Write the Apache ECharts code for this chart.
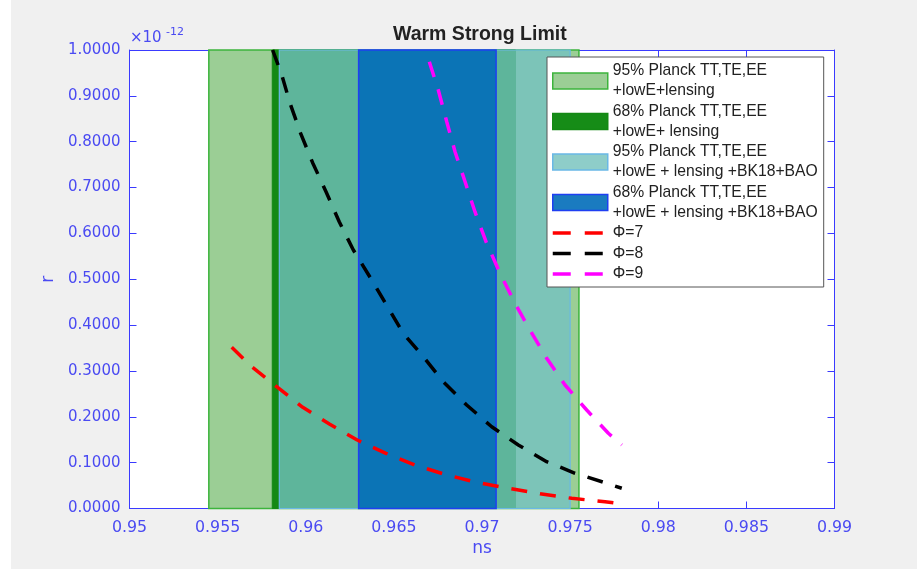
<!DOCTYPE html>
<html>
<head>
<meta charset="utf-8">
<script src="https://cdn.jsdelivr.net/npm/echarts@6/dist/echarts.min.js"></script>
<style>
  html, body { margin: 0; padding: 0; background: #ffffff; }
  #chart { width: 917px; height: 569px; }
</style>
</head>
<body>
<div id="chart"></div>
<script>
// Axis ranges (r is shown in units of 1e-12)
const nsMin = 0.95, nsMax = 0.99, nsStep = 0.005;
const rMin = 0, rMax = 1, rStep = 0.1;
const rScaleBase = '×10';
const rScaleExp = '-12';

// Confidence bands in ns: [low, high]
const bandNames = [
  '95% Planck TT,TE,EE\n+lowE+lensing',
  '68% Planck TT,TE,EE\n+lowE+ lensing',
  '95% Planck TT,TE,EE\n+lowE + lensing +BK18+BAO',
  '68% Planck TT,TE,EE\n+lowE + lensing +BK18+BAO'
];
const bandRanges = [
  [0.9545, 0.9755],
  [0.9581, 0.9719],
  [0.9585, 0.9750],
  [0.9630, 0.9708]
];

// Predicted (ns, r) curves
const curveNames = ['Φ=7', 'Φ=8', 'Φ=9'];
const phi7Ns = [0.95580, 0.95693, 0.95835, 0.95983, 0.96134, 0.96292, 0.96455, 0.96620, 0.96800, 0.96979, 0.97149, 0.97329, 0.97509, 0.97698, 0.97793];
const phi7R  = [0.3516, 0.3093, 0.2657, 0.2207, 0.1843, 0.1494, 0.1204, 0.0949, 0.0731, 0.0563, 0.0441, 0.0320, 0.0222, 0.0148, 0.0098];
const phi8Ns = [0.95812, 0.95864, 0.95911, 0.95971, 0.96039, 0.96115, 0.96190, 0.96270, 0.96365, 0.96553, 0.96667, 0.96780, 0.96913, 0.97055, 0.97206, 0.97367, 0.97528, 0.97708, 0.97793];
const phi8R  = [1.0000, 0.9455, 0.8837, 0.8183, 0.7542, 0.6910, 0.6255, 0.5638, 0.5043, 0.3821, 0.3311, 0.2766, 0.2257, 0.1784, 0.1385, 0.1021, 0.0768, 0.0550, 0.0441];
const phi9Ns = [0.96701, 0.96752, 0.96800, 0.96847, 0.96904, 0.96960, 0.97023, 0.97102, 0.97187, 0.97272, 0.97367, 0.97471, 0.97594, 0.97717, 0.97793];
const phi9R  = [0.9745, 0.9128, 0.8436, 0.7782, 0.7128, 0.6473, 0.5819, 0.5130, 0.4475, 0.3893, 0.3276, 0.2694, 0.2148, 0.1640, 0.1385];

// Styles
const axisBlue = '#3a3aff';
const labelBlue = '#4a4af2';
const bandStyles = [
  { fill: '#9bce95', stroke: '#3cb43c', lineWidth: 1.5 },
  { fill: '#148914', stroke: '#148914', lineWidth: 1 },
  { fill: 'rgba(115,194,194,0.78)', stroke: '#6ab8e6', lineWidth: 1.2 },
  { fill: '#0b74b6', stroke: '#1f3ff2', lineWidth: 1.5 }
];
const legendSwatch = ['#9bce95', '#168c17', '#8ecdc9', '#1a7bc0'];
const curveColors = ['#ff0000', '#000000', '#ff00ff'];
// Two dashes in a 55x16 legend box (corner specks pin the box size)
const dashIcon = 'path://M0,0h0.01v0.01h-0.01zM55,16h-0.01v-0.01h0.01zM0,6.3h18v3.4h-18zM32,6.3h18v3.4h-18z';

const chart = echarts.init(document.getElementById('chart'), null, { renderer: 'canvas' });

function pairs(xs, ys) { return xs.map((x, i) => [x, ys[i]]); }
const curves = [pairs(phi7Ns, phi7R), pairs(phi8Ns, phi8R), pairs(phi9Ns, phi9R)];

const bandSeries = bandNames.map((name, i) => ({
  name: name,
  type: 'custom',
  z: 2,
  silent: true,
  itemStyle: { color: legendSwatch[i] },
  encode: { x: [0, 1], y: [2, 3] },
  data: [[bandRanges[i][0], bandRanges[i][1], rMin, rMax]],
  renderItem: function (params, api) {
    const p0 = api.coord([api.value(0), api.value(3)]);
    const p1 = api.coord([api.value(1), api.value(2)]);
    return {
      type: 'rect',
      shape: { x: p0[0], y: p0[1], width: p1[0] - p0[0], height: p1[1] - p0[1] },
      style: bandStyles[i]
    };
  }
}));

const curveSeries = curveNames.map((name, i) => ({
  name: name,
  type: 'line',
  z: 4,
  symbol: 'none',
  smooth: false,
  clip: true,
  silent: true,
  itemStyle: { color: curveColors[i] },
  lineStyle: { color: curveColors[i], width: 3.5, type: [16, 13] },
  data: curves[i]
}));

const tickFont = 'DejaVu Sans';
const legendFont = 'Liberation Sans, Arial';

const option = {
  backgroundColor: '#f0f0f0',
  animation: false,
  title: {
    text: 'Warm Strong Limit',
    left: 393,
    top: 25,
    padding: 0,
    textStyle: { fontFamily: legendFont, fontWeight: 'bold', fontSize: 19.5, color: '#222222' }
  },
  grid: {
    left: 129.5, right: 82.5, top: 50, bottom: 60.5,
    show: true, backgroundColor: '#ffffff', borderWidth: 0
  },
  xAxis: [
    {
      type: 'value', min: nsMin, max: nsMax, interval: nsStep, position: 'bottom',
      axisLine: { onZero: false, lineStyle: { color: axisBlue, width: 1 } },
      axisTick: { inside: true, length: 7, lineStyle: { color: axisBlue } },
      splitLine: { show: false },
      axisLabel: {
        margin: 11, color: labelBlue, fontFamily: tickFont, fontSize: 15.8,
        formatter: v => String(parseFloat(v.toFixed(3)))
      },
      name: 'ns', nameLocation: 'middle', nameGap: 32,
      nameTextStyle: { color: labelBlue, fontFamily: tickFont, fontSize: 17 }
    },
    {
      type: 'value', min: nsMin, max: nsMax, interval: nsStep, position: 'top',
      axisLine: { onZero: false, lineStyle: { color: axisBlue, width: 1 } },
      axisTick: { inside: true, length: 7, lineStyle: { color: axisBlue } },
      splitLine: { show: false },
      axisLabel: { show: false }
    }
  ],
  yAxis: [
    {
      type: 'value', min: rMin, max: rMax, interval: rStep, position: 'left',
      axisLine: { show: true, onZero: false, lineStyle: { color: axisBlue, width: 1 } },
      axisTick: { show: true, inside: true, length: 7, lineStyle: { color: axisBlue } },
      splitLine: { show: false },
      axisLabel: {
        margin: 9, color: labelBlue, fontFamily: tickFont, fontSize: 15,
        formatter: v => v.toFixed(4)
      },
      name: 'r', nameLocation: 'middle', nameGap: 68,
      nameTextStyle: { color: labelBlue, fontFamily: tickFont, fontSize: 17 }
    },
    {
      type: 'value', min: rMin, max: rMax, interval: rStep, position: 'right',
      axisLine: { show: true, onZero: false, lineStyle: { color: axisBlue, width: 1 } },
      axisTick: { show: true, inside: true, length: 7, lineStyle: { color: axisBlue } },
      splitLine: { show: false },
      axisLabel: { show: false }
    }
  ],
  legend: {
    orient: 'vertical',
    left: 547,
    top: 57,
    padding: [4, 6, 3, 5],
    itemGap: 0.5,
    itemWidth: 55,
    itemHeight: 16,
    selectedMode: false,
    backgroundColor: '#ffffff',
    borderColor: '#555555',
    borderWidth: 1,
    textStyle: { fontFamily: legendFont, fontSize: 15.7, lineHeight: 20, color: '#222222' },
    data: [
      ...bandNames.map((name, i) => ({
        name: name,
        icon: 'rect',
        itemStyle: { color: legendSwatch[i], borderColor: bandStyles[i].stroke, borderWidth: 1.5 }
      })),
      ...curveNames.map((name, i) => ({
        name: name,
        icon: dashIcon,
        itemStyle: { color: curveColors[i], borderWidth: 0 }
      }))
    ]
  },
  graphic: [
    // white strip along the left edge of the figure window
    {
      type: 'rect', left: 0, top: 0, z: -10,
      shape: { width: 11, height: 569 },
      style: { fill: '#ffffff' }
    },
    {
      type: 'text', left: 130, top: 31, z: 10,
      style: { text: rScaleBase, fill: labelBlue, font: '15px "DejaVu Sans"' }
    },
    {
      type: 'text', left: 166, top: 27, z: 10,
      style: { text: rScaleExp, fill: labelBlue, font: '11px "DejaVu Sans"' }
    }
  ],
  series: [...bandSeries, ...curveSeries]
};

chart.setOption(option);
</script>
</body>
</html>
